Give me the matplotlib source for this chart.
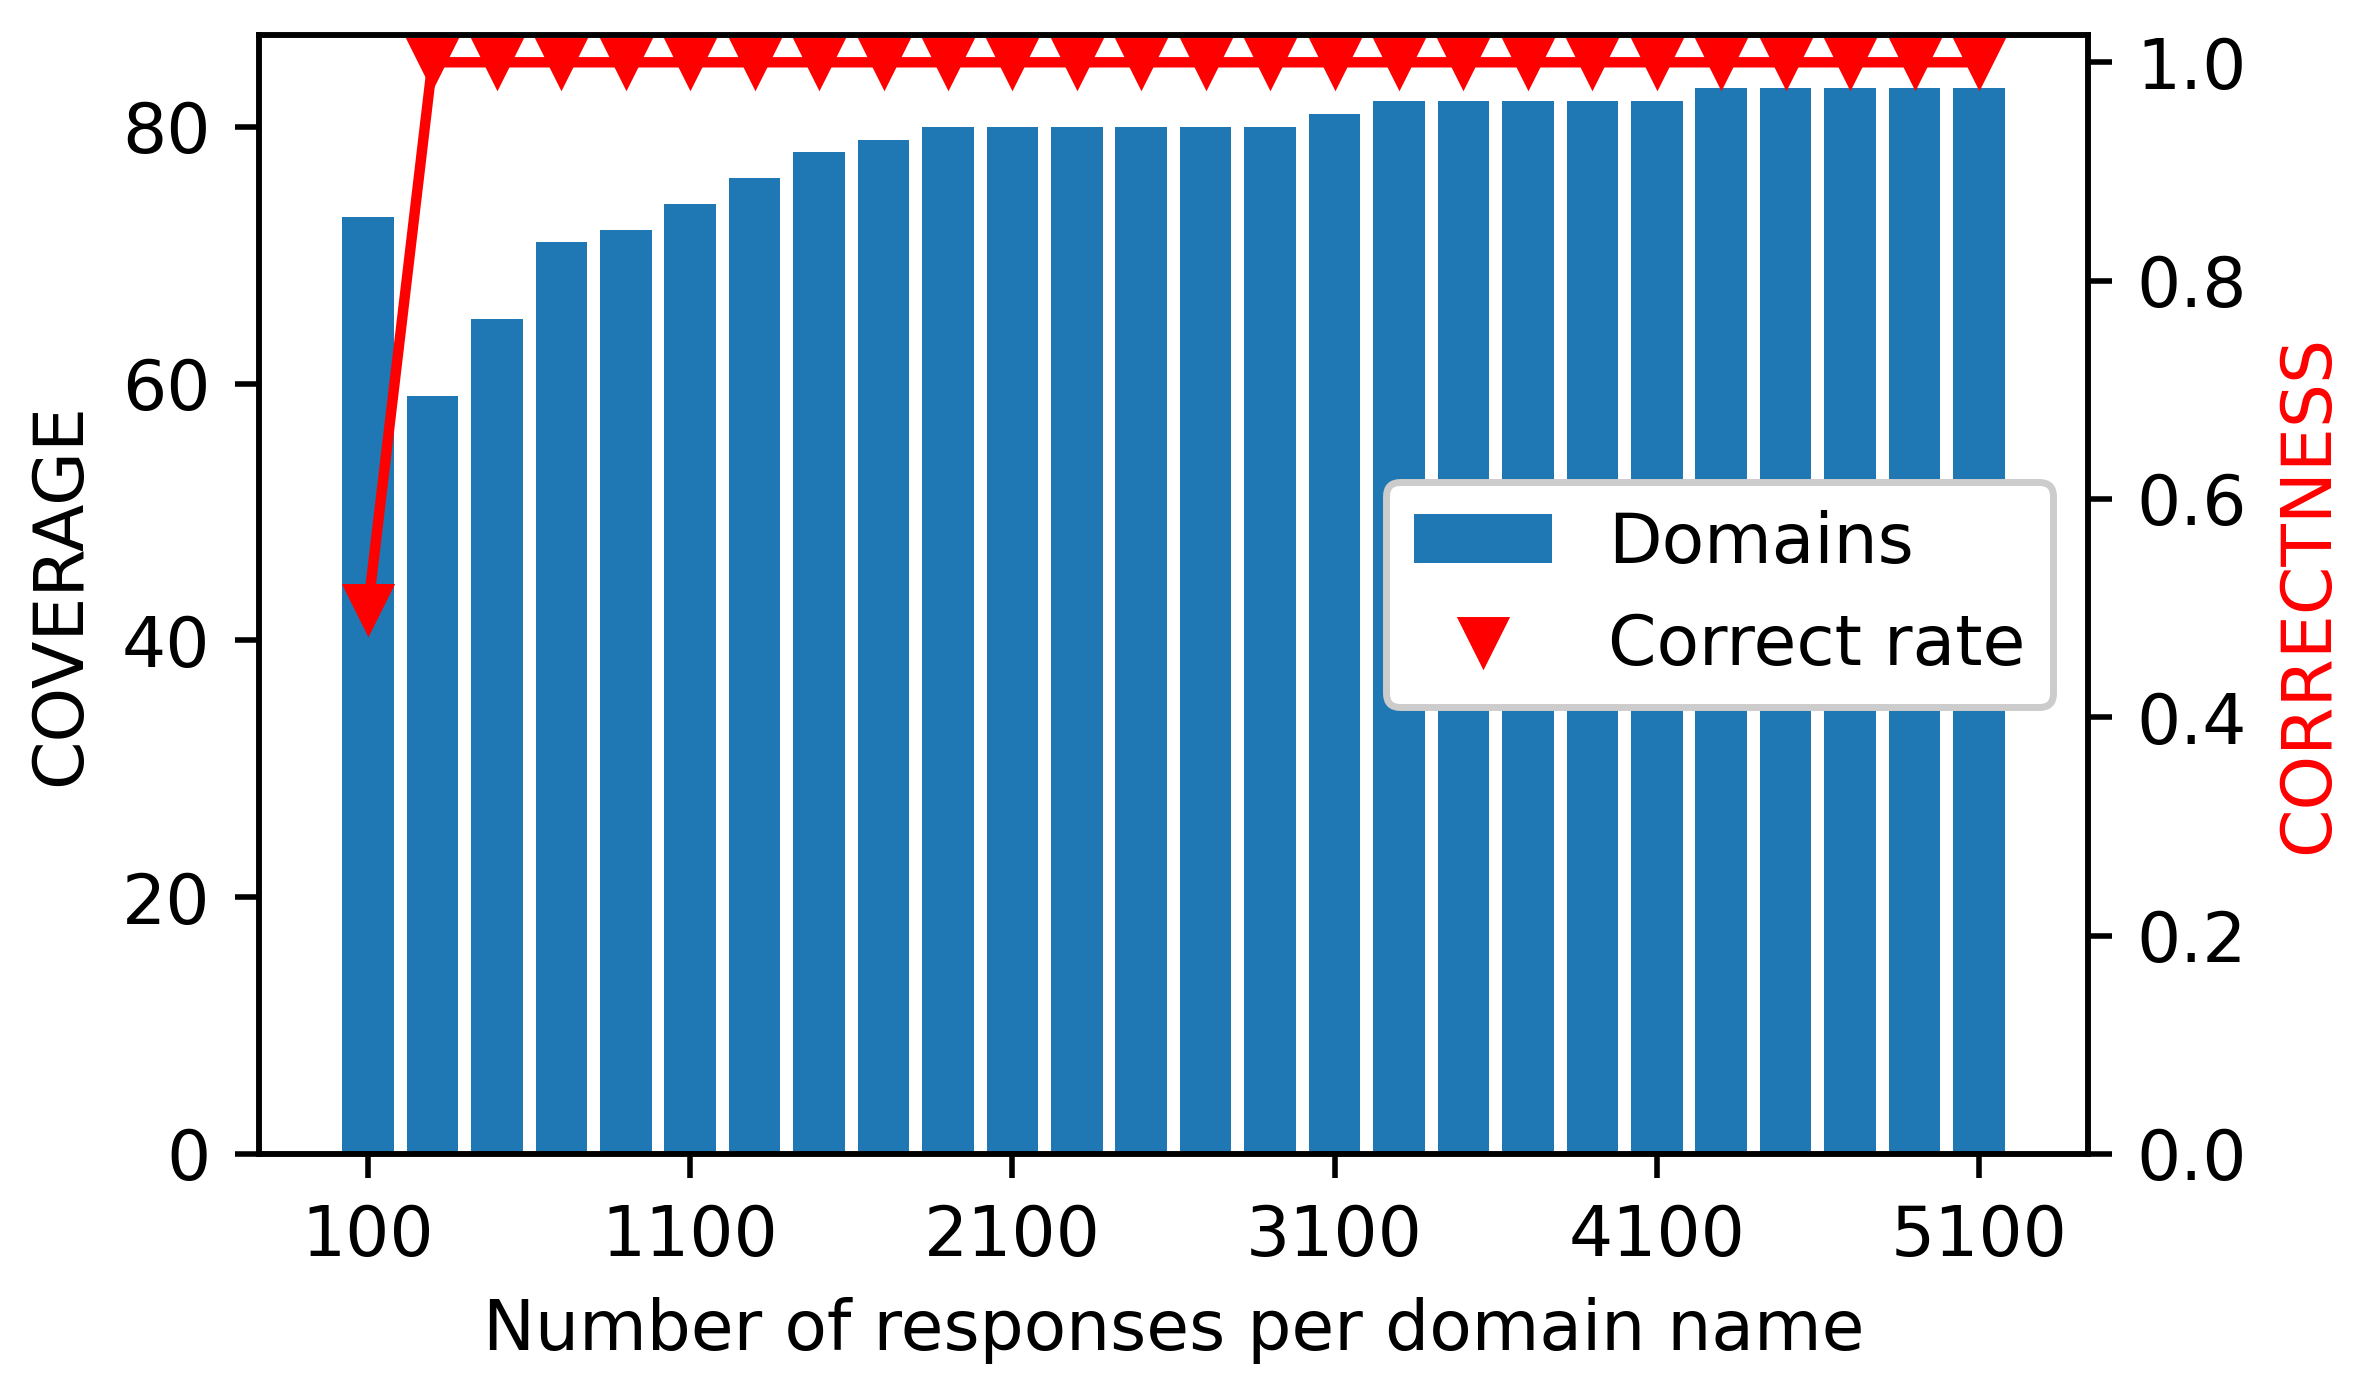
import matplotlib
matplotlib.use("Agg")
from matplotlib import pyplot as plt
import numpy as np

responses = list(range(100, 5101, 200))
domains = [73, 59, 65, 71, 72, 74, 76, 78, 79, 80, 80, 80, 80, 80, 80,
           81, 82, 82, 82, 82, 82, 83, 83, 83, 83, 83]
correct_rate = [0.5] + [1.0] * 25
xticks = [100, 1100, 2100, 3100, 4100, 5100]


def main():
    fig = plt.figure(figsize=(2364 / 500, 1394 / 500), dpi=500)
    ax = fig.add_axes([0.1096, 0.1722, 0.7736, 0.8027])
    bars = ax.bar(responses, domains, width=160, label="Domains")
    ax.set_xticks(xticks)
    ax.set_xlabel("Number of responses per domain name")
    ax.set_ylabel("COVERAGE")

    ax2 = ax.twinx()
    ax2.plot(responses, correct_rate, color="red")
    pts, = ax2.plot(responses, correct_rate, "v", color="red",
                    linestyle="none", label="Correct rate")
    ax2.set_ylim(bottom=0)
    ax2.set_ylabel("CORRECTNESS", color="red")

    ax2.legend([bars, pts], ["Domains", "Correct rate"], loc="center right",
               framealpha=1)
    fig.savefig("out.png", dpi=500)


if __name__ == "__main__":
    main()
